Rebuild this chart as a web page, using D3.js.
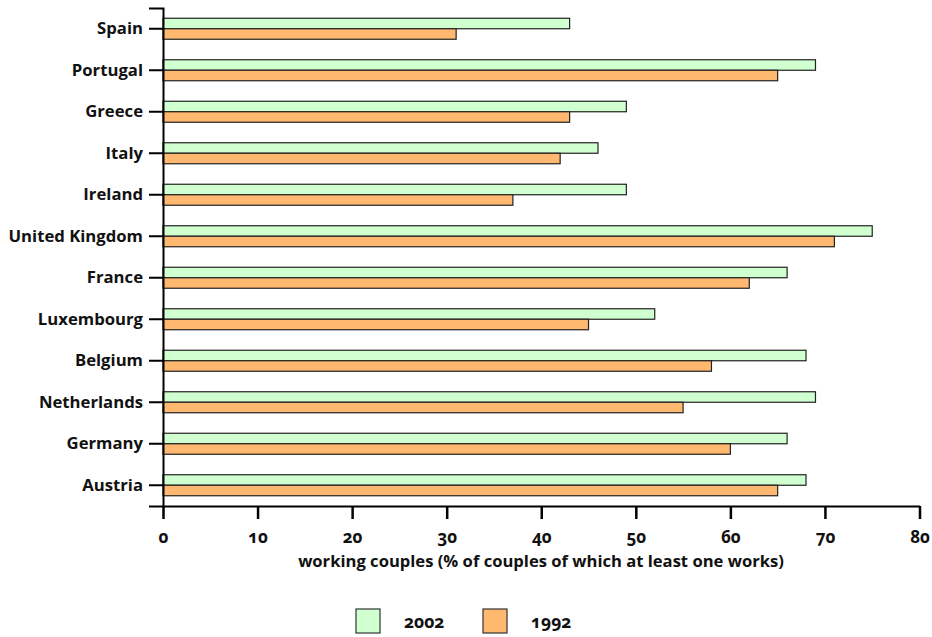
<!DOCTYPE html>
<html>
<head>
<meta charset="utf-8">
<script src="https://cdn.jsdelivr.net/npm/d3@7"></script>
<style>
  html, body { margin: 0; padding: 0; background: #fff; }
  svg text { font-family: "Open Sans", "DejaVu Sans", sans-serif; font-weight: 700; fill: #111; font-variant-numeric: oldstyle-nums; }
</style>
</head>
<body>
<svg id="chart" width="932" height="637"></svg>
<script>
const countries = ["Spain","Portugal","Greece","Italy","Ireland","United Kingdom","France","Luxembourg","Belgium","Netherlands","Germany","Austria"];
const values2002 = [43,69,49,46,49,75,66,52,68,69,66,68];
const values1992 = [31,65,43,42,37,71,62,45,58,55,60,65];
const seriesNames = ["2002","1992"];
const seriesColors = ["#d0ffd0","#ffb870"];
const xTicks = [0,10,20,30,40,50,60,70,80];
const xTitle = "working couples (% of couples of which at least one works)";

const svg = d3.select("#chart");
const x = d3.scaleLinear().domain([0,80]).range([163,919.5]);
const y = d3.scaleBand().domain(countries).range([8,506]).padding(0);
const barH = 10.5;

const g = svg.append("g");

// bars
const series = [values2002, values1992];
series.forEach((vals, si) => {
  g.selectAll(".bar" + si).data(countries).enter().append("rect")
    .attr("x", x(0))
    .attr("y", d => y(d) + y.bandwidth()/2 - barH + si*barH)
    .attr("width", (d,i) => x(vals[i]) - x(0))
    .attr("height", barH)
    .attr("fill", seriesColors[si])
    .attr("stroke", "#222")
    .attr("stroke-width", 1.2);
});

// y axis
const yAxis = d3.axisLeft(y).tickSize(14).tickPadding(6);
const yg = svg.append("g").attr("transform", `translate(${x(0)},0)`).call(yAxis);
yg.select(".domain").attr("stroke","#000").attr("stroke-width",2);
yg.selectAll(".tick line").attr("stroke","#000").attr("stroke-width",2);
yg.selectAll(".tick text").attr("font-size", 16.7).attr("fill","#111");

// x axis
const xAxis = d3.axisBottom(x).tickValues(xTicks).tickSize(13).tickSizeOuter(0).tickPadding(12).tickFormat(d3.format("d"));
const xg = svg.append("g").attr("transform", `translate(0,506)`).call(xAxis);
xg.select(".domain").attr("stroke","#000").attr("stroke-width",2);
xg.selectAll(".tick line").attr("stroke","#000").attr("stroke-width",2.5);
xg.selectAll(".tick text").attr("font-size", 17).attr("fill","#111");

svg.append("text").attr("x", 541).attr("y", 567).attr("text-anchor","middle")
  .attr("font-size", 16.6).text(xTitle);

// legend
const legX = [356, 483];
seriesNames.forEach((n, i) => {
  svg.append("rect").attr("x", legX[i]).attr("y", 609).attr("width", 24).attr("height", 24)
    .attr("fill", seriesColors[i]).attr("stroke","#333").attr("stroke-width",1.2);
  svg.append("text").attr("x", legX[i] + 48).attr("y", 628).attr("font-size", 17.5).text(n);
});
</script>
</body>
</html>
